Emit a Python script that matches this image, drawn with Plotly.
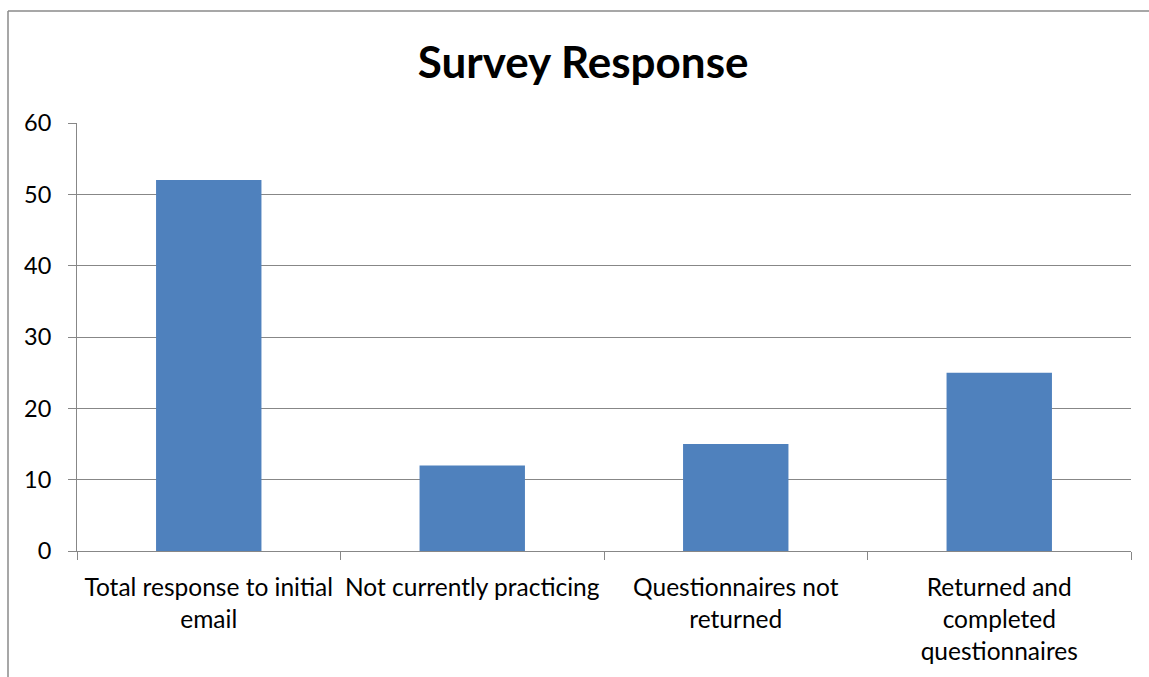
import plotly.graph_objects as go

categories = ["Total response to initial<br>email", "Not currently practicing",
              "Questionnaires not<br>returned", "Returned and<br>completed<br>questionnaires"]
values = [52, 12, 15, 25]
y_ticks = [0, 10, 20, 30, 40, 50, 60]

W, H = 1149, 677
L, R, T, B = 77, 18, 123, 126
pw = W - L - R
ph = H - T - B

def px_x(x):
    return (x - L) / pw

def px_y(y):
    return (H - B - y) / ph

FONT = "Lato"
GRID = "#878787"

fig = go.Figure(go.Bar(x=categories, y=values, marker=dict(color="#4F81BD", line=dict(width=0)), width=0.4))

fig.update_layout(
    width=W, height=H,
    margin=dict(l=L, r=R, t=T, b=B),
    paper_bgcolor="white", plot_bgcolor="white",
    font=dict(family=FONT, size=24, color="black"),
    title=dict(text="<b>Survey Response</b>", x=0.5075, xanchor="center", y=1 - 63 / H, yanchor="middle",
               font=dict(family=FONT, size=44, color="black")),
    showlegend=False,
    xaxis=dict(showline=True, linecolor=GRID, linewidth=1, ticks="outside", ticklen=8, tickcolor=GRID,
               tickson="boundaries", showgrid=False, tickfont=dict(size=24.5), tickangle=0,
               ticklabelstandoff=15),
    yaxis=dict(range=[0, 60], tickvals=y_ticks, showline=True, linecolor=GRID, linewidth=1,
               ticks="outside", ticklen=8, tickcolor=GRID, showgrid=True, gridcolor=GRID, gridwidth=1,
               zeroline=False, tickfont=dict(size=23.5), ticklabelstandoff=12),
    shapes=[
        dict(type="line", xref="paper", yref="paper", x0=px_x(8), x1=px_x(8), y0=px_y(11), y1=px_y(H + 5),
             line=dict(color="#8a8a8a", width=1.5)),
        dict(type="line", xref="paper", yref="paper", x0=px_x(8), x1=px_x(W + 5), y0=px_y(11), y1=px_y(11),
             line=dict(color="#8a8a8a", width=1.5)),
    ],
)

fig.write_html("out.html")
